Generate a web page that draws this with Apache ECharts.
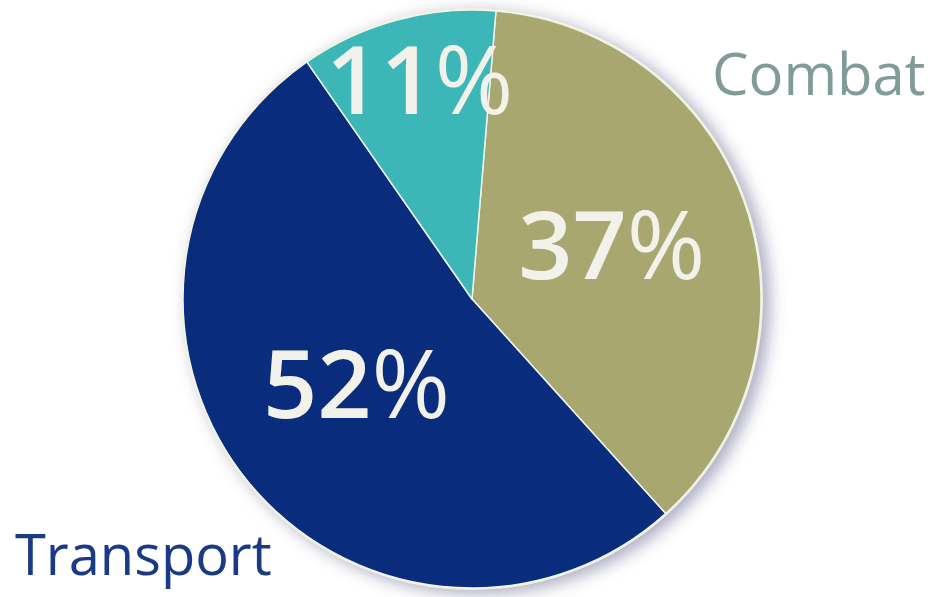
<!DOCTYPE html>
<html>
<head>
<meta charset="utf-8">
<script src="https://cdn.jsdelivr.net/npm/echarts@6/dist/echarts.min.js"></script>
<style>
  html, body { margin: 0; padding: 0; background: #ffffff; }
  #chart { width: 944px; height: 597px; }
</style>
</head>
<body>
<div id="chart"></div>
<script>
// Share of fleet by aircraft role (percent)
const categories = ['Combat', 'Transport', 'Tanker'];
const shares = [37, 52, 11];

const sliceColors = ['#a8a770', '#0a2c7d', '#3db6b7'];
const nameColors = ['#7f9c98', '#1b3a85', '#6cc2c2'];

const center = [472, 299];
const radius = 290;
const FONT = '"Open Sans", "Noto Sans", sans-serif';

// nudge for the narrow slice so its percentage sits near the rim
const labelNudge = { Tanker: { dx: -14, dy: -70 } };

const chart = echarts.init(document.getElementById('chart'), null, { renderer: 'canvas' });

chart.setOption({
  animation: false,
  backgroundColor: '#ffffff',
  series: [
    {
      // cream disc under the pie: gives the rim and the soft drop shadow
      type: 'pie',
      silent: true,
      z: 1,
      center: center,
      radius: radius + 1,
      label: { show: false },
      labelLine: { show: false },
      itemStyle: {
        color: '#f4f1d8',
        shadowBlur: 16,
        shadowOffsetX: 7,
        shadowOffsetY: 4,
        shadowColor: 'rgba(70, 70, 125, 0.45)'
      },
      data: [{ value: 1, name: '' }]
    },
    {
      type: 'pie',
      z: 2,
      center: center,
      radius: radius - 1,
      startAngle: 85.25,
      clockwise: true,
      avoidLabelOverlap: false,
      itemStyle: { borderColor: '#eef5ee', borderWidth: 1.5 },
      label: {
        show: true,
        position: 'inside',
        formatter: p => '{d|' + p.value + '}{p|%}',
        rich: {
          d: { fontFamily: FONT, fontWeight: 600, fontSize: 95, color: '#f3f2ea' },
          p: { fontFamily: FONT, fontWeight: 400, fontSize: 95, color: '#f3f2ea' }
        }
      },
      labelLine: { show: false },
      labelLayout: params => labelNudge[categories[params.dataIndex]] || {},
      data: categories.map((name, i) => ({
        name: name,
        value: shares[i],
        itemStyle: { color: sliceColors[i] }
      }))
    }
  ],
  graphic: [
    {
      type: 'text',
      left: 712,
      top: 49,
      style: { text: categories[0], fill: nameColors[0], font: '400 58px ' + FONT }
    },
    {
      type: 'text',
      left: 15,
      top: 531,
      style: { text: categories[1], fill: nameColors[1], font: '400 56px ' + FONT }
    },
    {
      type: 'text',
      left: 124,
      top: -66,
      style: { text: categories[2], fill: nameColors[2], font: '400 58px ' + FONT, opacity: 0.5 }
    }
  ]
});
</script>
</body>
</html>
